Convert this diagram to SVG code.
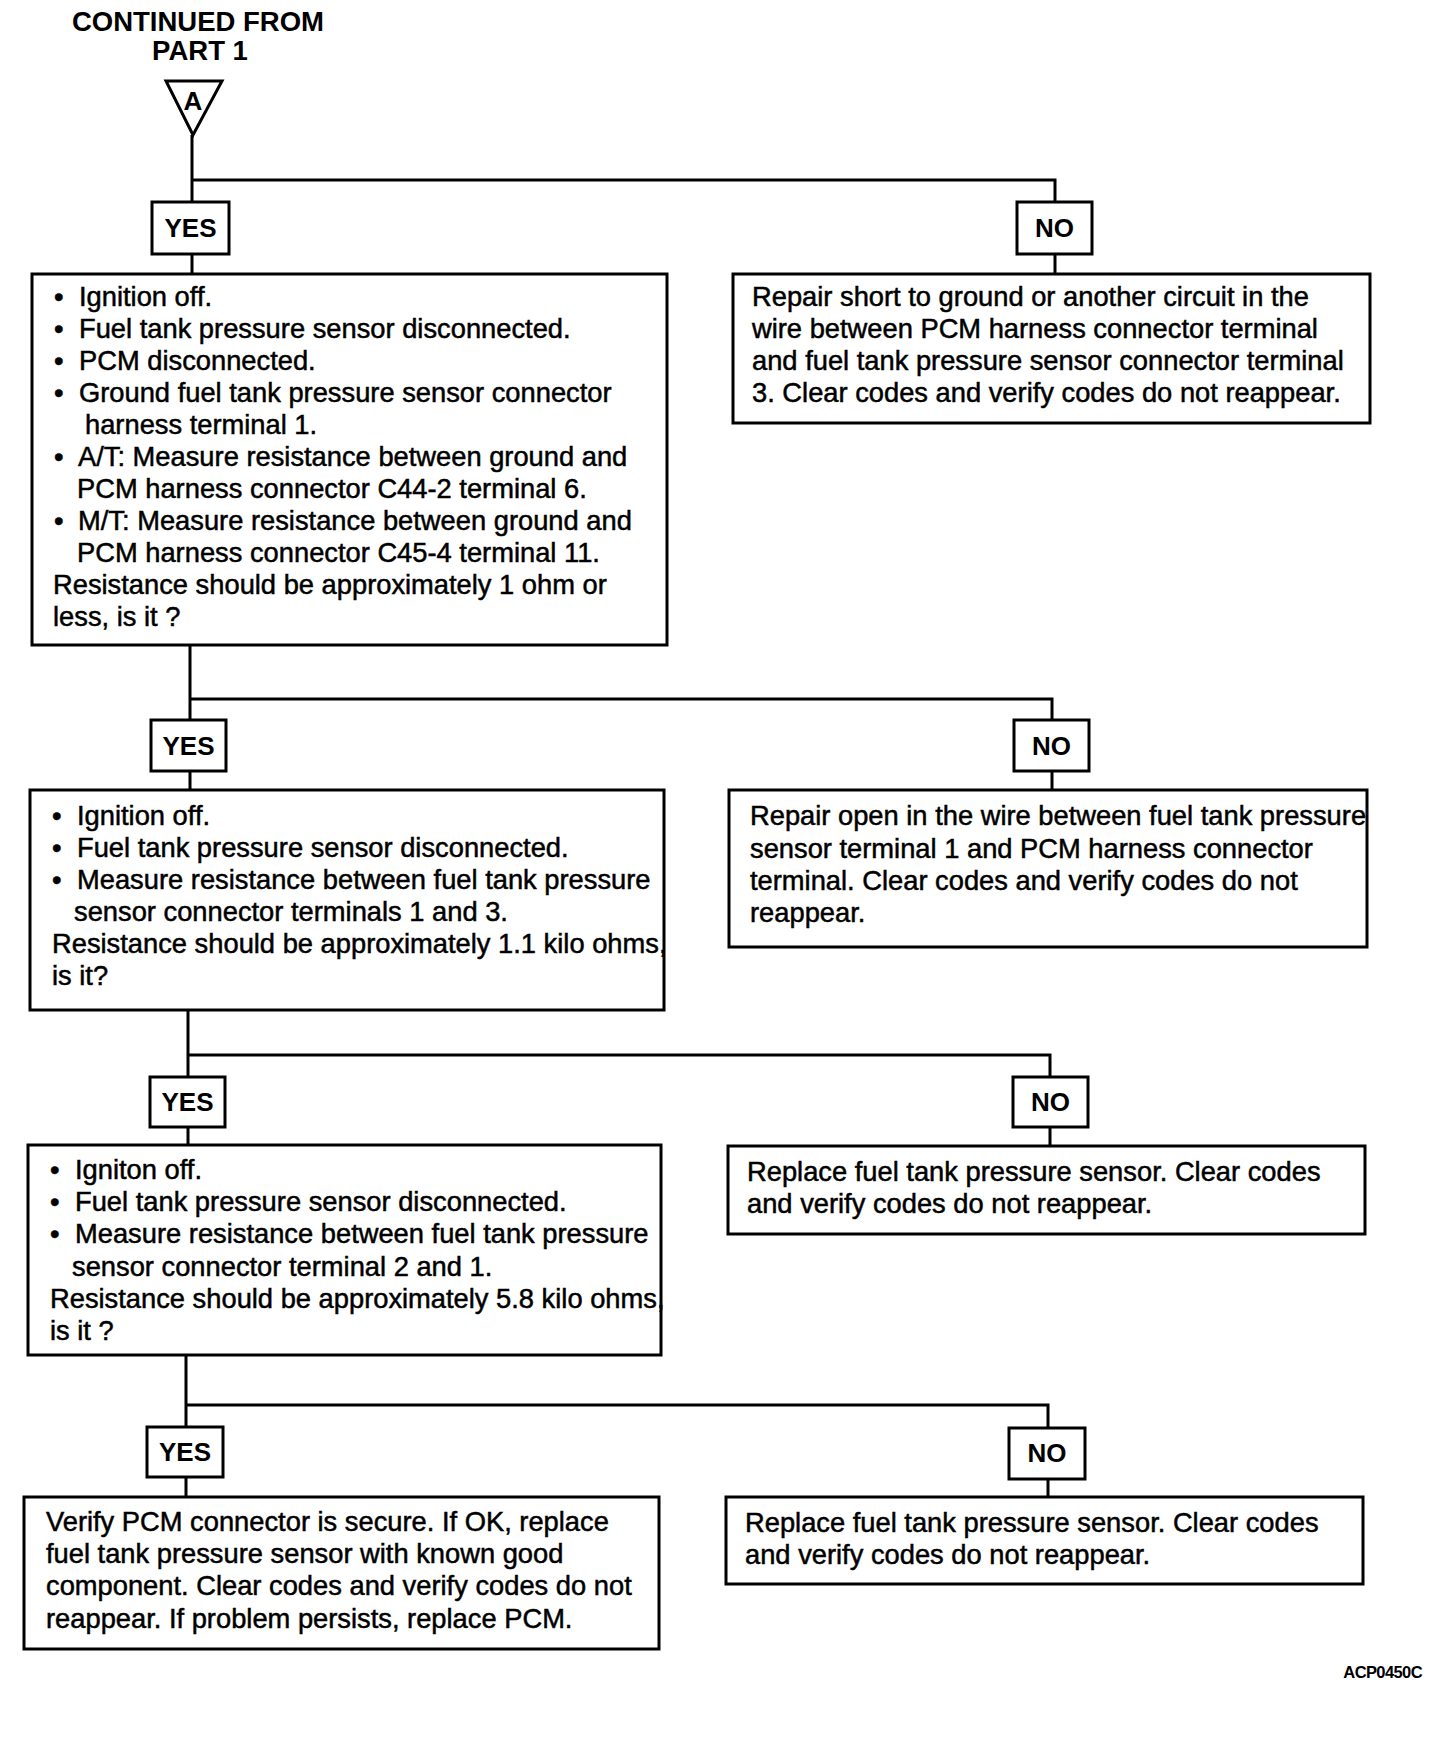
<svg xmlns="http://www.w3.org/2000/svg" width="1456" height="1738" viewBox="0 0 1456 1738">
<style>
.box{fill:#fff;stroke:#000;stroke-width:3}
.lbl{fill:#fff;stroke:#000;stroke-width:3}
.t{font-family:"Liberation Sans",Arial,Helvetica,sans-serif;font-size:27.3px;fill:#000;stroke:#000;stroke-width:0.5}
.b{font-family:"Liberation Sans",Arial,Helvetica,sans-serif;font-weight:bold;fill:#000}
.yn{font-size:26px;text-anchor:middle}
.conn{fill:none;stroke:#000;stroke-width:3}
</style>
<rect width="1456" height="1738" fill="#fff"/>
<g id="title">
<text class="b" x="198" y="31" font-size="27.5" text-anchor="middle">CONTINUED FROM</text>
<text class="b" x="200" y="60" font-size="27.5" text-anchor="middle">PART  1</text>
</g>
<g id="connectors">
<path class="conn" d="M192,135 V202 M192,180 H1055 V202 M192,254 V274 M1055,254 V274"/>
<path class="conn" d="M190,645 V720 M190,699 H1052 V720 M190,771 V790 M1052,771 V790"/>
<path class="conn" d="M188,1010 V1077 M188,1055 H1050 V1077 M188,1127 V1145 M1050,1127 V1146"/>
<path class="conn" d="M186,1355 V1427 M186,1405 H1048 V1428 M186,1477 V1497 M1048,1479 V1497"/>
</g>
<g id="start-A">
<polygon points="166,81 222,81 193,135" fill="#fff" stroke="#000" stroke-width="3"/>
<text class="b" x="193" y="110" font-size="26" text-anchor="middle">A</text>
</g>
<g id="yes1"><rect class="lbl" x="152" y="202" width="77" height="52"/><text class="b yn" x="190.5" y="237">YES</text></g>
<g id="no1"><rect class="lbl" x="1017" y="202" width="75" height="52"/><text class="b yn" x="1054.5" y="237">NO</text></g>
<g id="step1">
<rect class="box" x="32" y="274" width="635" height="371"/>
<text class="t" x="54" y="306">•</text><text class="t" x="79" y="306">Ignition off.</text>
<text class="t" x="54" y="338">•</text><text class="t" x="79" y="338">Fuel tank pressure sensor disconnected.</text>
<text class="t" x="54" y="370">•</text><text class="t" x="79" y="370">PCM disconnected.</text>
<text class="t" x="54" y="402">•</text><text class="t" x="79" y="402">Ground fuel tank pressure sensor connector</text>
<text class="t" x="85" y="434">harness terminal 1.</text>
<text class="t" x="54" y="466">•</text><text class="t" x="78" y="466">A/T: Measure resistance between ground and</text>
<text class="t" x="77" y="498">PCM harness connector C44-2 terminal 6.</text>
<text class="t" x="54" y="530">•</text><text class="t" x="78" y="530">M/T: Measure resistance between ground and</text>
<text class="t" x="77" y="562">PCM harness connector C45-4 terminal 11.</text>
<text class="t" x="53" y="594">Resistance should be approximately 1 ohm or</text>
<text class="t" x="53" y="626">less, is it ?</text>
</g>
<g id="fix1">
<rect class="box" x="733" y="274" width="637" height="149"/>
<text class="t" x="752" y="306">Repair short to ground or another circuit in the</text>
<text class="t" x="752" y="338">wire between PCM harness connector terminal</text>
<text class="t" x="752" y="370">and fuel tank pressure sensor connector terminal</text>
<text class="t" x="752" y="402">3. Clear codes and verify codes do not reappear.</text>
</g>
<g id="yes2"><rect class="lbl" x="151" y="720" width="75" height="51"/><text class="b yn" x="188.5" y="755">YES</text></g>
<g id="no2"><rect class="lbl" x="1014" y="720" width="75" height="51"/><text class="b yn" x="1051.5" y="755">NO</text></g>
<g id="step2">
<rect class="box" x="30" y="790" width="634" height="220"/>
<text class="t" x="52" y="825">•</text><text class="t" x="77" y="825">Ignition off.</text>
<text class="t" x="52" y="857">•</text><text class="t" x="77" y="857">Fuel tank pressure sensor disconnected.</text>
<text class="t" x="52" y="889">•</text><text class="t" x="77" y="889">Measure resistance between fuel tank pressure</text>
<text class="t" x="74" y="921">sensor connector terminals 1 and 3.</text>
<text class="t" x="52" y="953">Resistance should be approximately 1.1 kilo ohms,</text>
<text class="t" x="52" y="985">is it?</text>
</g>
<g id="fix2">
<rect class="box" x="729" y="790" width="638" height="157"/>
<text class="t" x="750" y="825">Repair open in the wire between fuel tank pressure</text>
<text class="t" x="750" y="858">sensor terminal 1 and PCM harness connector</text>
<text class="t" x="750" y="890">terminal. Clear codes and verify codes do not</text>
<text class="t" x="750" y="922">reappear.</text>
</g>
<g id="yes3"><rect class="lbl" x="150" y="1077" width="75" height="50"/><text class="b yn" x="187.5" y="1111">YES</text></g>
<g id="no3"><rect class="lbl" x="1013" y="1077" width="75" height="50"/><text class="b yn" x="1050.5" y="1111">NO</text></g>
<g id="step3">
<rect class="box" x="28" y="1145" width="633" height="210"/>
<text class="t" x="50" y="1179">•</text><text class="t" x="75" y="1179">Igniton off.</text>
<text class="t" x="50" y="1211">•</text><text class="t" x="75" y="1211">Fuel tank pressure sensor disconnected.</text>
<text class="t" x="50" y="1243">•</text><text class="t" x="75" y="1243">Measure resistance between fuel tank pressure</text>
<text class="t" x="72" y="1276">sensor connector terminal 2 and 1.</text>
<text class="t" x="50" y="1308">Resistance should be approximately 5.8 kilo ohms,</text>
<text class="t" x="50" y="1340">is it ?</text>
</g>
<g id="fix3">
<rect class="box" x="728" y="1146" width="637" height="88"/>
<text class="t" x="747" y="1181">Replace fuel tank pressure sensor. Clear codes</text>
<text class="t" x="747" y="1213">and verify codes do not reappear.</text>
</g>
<g id="yes4"><rect class="lbl" x="147" y="1427" width="76" height="50"/><text class="b yn" x="185" y="1461">YES</text></g>
<g id="no4"><rect class="lbl" x="1009" y="1428" width="76" height="51"/><text class="b yn" x="1047" y="1462">NO</text></g>
<g id="step4">
<rect class="box" x="24" y="1497" width="635" height="152"/>
<text class="t" x="46" y="1531">Verify PCM connector is secure. If OK, replace</text>
<text class="t" x="46" y="1563">fuel tank pressure sensor with known good</text>
<text class="t" x="46" y="1595">component. Clear codes and verify codes do not</text>
<text class="t" x="46" y="1628">reappear. If problem persists, replace PCM.</text>
</g>
<g id="fix4">
<rect class="box" x="726" y="1497" width="637" height="87"/>
<text class="t" x="745" y="1532">Replace fuel tank pressure sensor. Clear codes</text>
<text class="t" x="745" y="1564">and verify codes do not reappear.</text>
</g>
<text class="b" x="1422" y="1678" font-size="16.5" text-anchor="end" letter-spacing="-0.6">ACP0450C</text>
</svg>
